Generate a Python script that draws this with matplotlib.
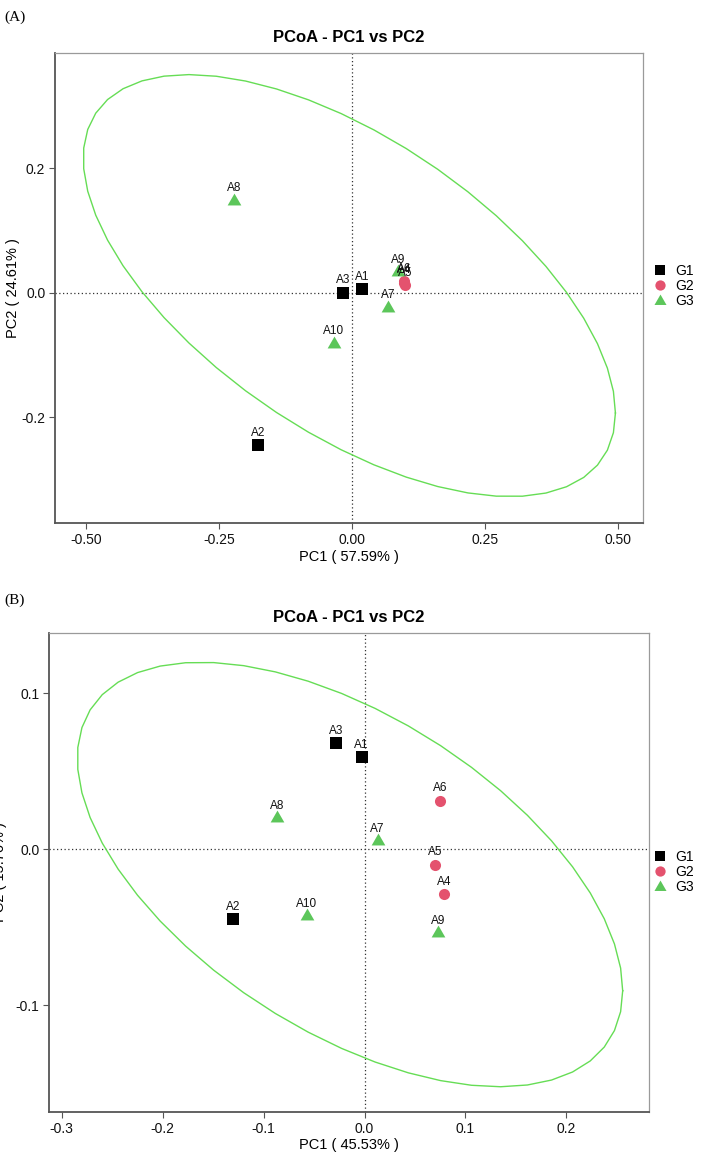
import numpy as np
import matplotlib
matplotlib.use("Agg")
import matplotlib.pyplot as plt
from matplotlib.lines import Line2D

plt.rcParams['font.family'] = ['Liberation Sans', 'DejaVu Sans']

# ---------------- data ----------------
samples = ["A1", "A2", "A3", "A4", "A5", "A6", "A7", "A8", "A9", "A10"]
groups = ["G1", "G1", "G1", "G2", "G2", "G2", "G3", "G3", "G3", "G3"]

# panel A
pc1_a = [0.019, -0.177, -0.017, 0.098, 0.100, 0.097, 0.067, -0.222, 0.086, -0.035]
pc2_a = [0.006, -0.245, 0.000, 0.016, 0.012, 0.018, -0.024, 0.148, 0.033, -0.082]
xlab_a = "PC1 ( 57.59% )"
ylab_a = "PC2 ( 24.61% )"
xticks_a = [-0.50, -0.25, 0.00, 0.25, 0.50]
yticks_a = [-0.2, 0.0, 0.2]

# panel B
pc1_b = [-0.003, -0.130, -0.028, 0.079, 0.070, 0.075, 0.013, -0.087, 0.073, -0.057]
pc2_b = [0.059, -0.045, 0.068, -0.029, -0.010, 0.031, 0.005, 0.020, -0.054, -0.043]
xlab_b = "PC1 ( 45.53% )"
ylab_b = "PC2 ( 15.76% )"
xticks_b = [-0.3, -0.2, -0.1, 0.0, 0.1, 0.2]
yticks_b = [-0.1, 0.0, 0.1]

title = "PCoA - PC1 vs PC2"
group_names = ["G1", "G2", "G3"]
colors = {"G1": "#000000", "G2": "#E4526E", "G3": "#5CC65A"}
ellipse_color = "#66DD55"

# equilateral triangle centred on its centroid (like R pch 17)
TRI = [(-0.866, -0.5), (0.866, -0.5), (0.0, 1.0), (-0.866, -0.5)]
markers = {"G1": "s", "G2": "o", "G3": TRI}
msize = {"G1": 8.2, "G2": 8.0, "G3": 11.4}
leg_msize = {"G1": 7.0, "G2": 7.4, "G3": 10.0}


# ---------------- helpers ----------------
def cov_trob(x, nu=5, maxit=25, tol=0.01):
    x = np.asarray(x, float)
    n, p = x.shape
    wt = np.ones(n)
    loc = (wt[:, None] * x).sum(0) / wt.sum()
    w = np.sqrt(wt)
    for _ in range(maxit):
        w0 = w
        X = x - loc
        A = np.sqrt(w / w.sum())[:, None] * X
        _, d, vt = np.linalg.svd(A, full_matrices=False)
        wX = X @ vt.T @ np.diag(1.0 / d)
        Q = (wX ** 2).sum(1)
        w = (wt * (nu + p)) / (nu + Q)
        loc = (w[:, None] * x).sum(0) / w.sum()
        if np.all(np.abs(w - w0) < tol):
            break
    X = x - loc
    cov = (np.sqrt(w)[:, None] * X).T @ (np.sqrt(w)[:, None] * X) / wt.sum()
    return loc, cov


def stat_ellipse(x, y, level=0.95, segments=51):
    pts = np.column_stack([x, y])
    n = len(pts)
    center, shape = cov_trob(pts)
    d2 = n - 1
    fq = d2 / 2.0 * (((1 - level) ** (-2.0 / d2)) - 1.0)  # qf(level, 2, d2)
    radius = np.sqrt(2 * fq)
    chol = np.linalg.cholesky(shape).T
    ang = np.linspace(0, 2 * np.pi, segments + 1)
    circ = np.column_stack([np.cos(ang), np.sin(ang)])
    ell = center + radius * (circ @ chol)
    return ell[:, 0], ell[:, 1]


W, H = 708, 1152


def panel(fig, rect_px, pc1, pc2, xlab, ylab, xticks, yticks, xlim, ylim, xfmt,
          ylab_x_px, leg_y_px):
    l, t, r, b = rect_px
    ax = fig.add_axes([l / W, 1 - b / H, (r - l) / W, (b - t) / H])
    ax.axhline(0, color="#333333", lw=0.9, ls=(0, (1, 2)), zorder=1)
    ax.axvline(0, color="#333333", lw=0.9, ls=(0, (1, 2)), zorder=1)
    for g in group_names:
        idx = [i for i, gg in enumerate(groups) if gg == g]
        if len(idx) > 3:
            ex, ey = stat_ellipse([pc1[i] for i in idx], [pc2[i] for i in idx])
            ax.plot(ex, ey, color=ellipse_color, lw=1.0, zorder=2)
    for i, s in enumerate(samples):
        g = groups[i]
        ax.plot(pc1[i], pc2[i], marker=markers[g], color=colors[g], ms=msize[g],
                mew=0, ls="none", zorder=3)
        ax.annotate(s, (pc1[i], pc2[i]), xytext=(0, 4.5), textcoords="offset points",
                    ha="center", va="bottom", fontsize=8.5, color="#111111", zorder=4)
    ax.set_xlim(*xlim)
    ax.set_ylim(*ylim)
    ax.set_xticks(xticks)
    ax.set_yticks(yticks)
    ax.set_xticklabels([xfmt.format(v) for v in xticks])
    ax.set_yticklabels(["{:.1f}".format(v) for v in yticks])
    ax.tick_params(axis="both", labelsize=10, color="#555555", length=4, width=0.8,
                   labelcolor="#111111", pad=3)
    ax.set_xlabel(xlab, fontsize=10.5, labelpad=2)
    ax.set_ylabel(ylab, fontsize=10.5)
    ax.yaxis.set_label_coords((ylab_x_px - l) / (r - l), 0.5)
    ax.set_title(title, fontsize=12, fontweight="bold", pad=8)
    for side in ["left", "bottom"]:
        ax.spines[side].set_color("#555555")
        ax.spines[side].set_linewidth(1.3)
    for side in ["top", "right"]:
        ax.spines[side].set_color("#9a9a9a")
        ax.spines[side].set_linewidth(0.9)
    handles = [Line2D([], [], marker=markers[g], color=colors[g], ls="none",
                      ms=leg_msize[g], mew=0) for g in group_names]
    fig.legend(handles, group_names, loc="center left",
               bbox_to_anchor=(654 / W, 1 - leg_y_px / H),
               bbox_transform=fig.transFigure,
               frameon=False, fontsize=10, handlelength=0.9, handletextpad=0.6,
               labelspacing=0.1, borderaxespad=0, borderpad=0)
    return ax


fig = plt.figure(figsize=(W / 100, H / 100), dpi=100)

panel(fig, (55, 53, 643, 523), pc1_a, pc2_a, xlab_a, ylab_a, xticks_a, yticks_a,
      (-0.5587, 0.5464), (-0.370, 0.385), "{:.2f}", 20, 286)

panel(fig, (49, 633, 649, 1112), pc1_b, pc2_b, xlab_b, ylab_b, xticks_b, yticks_b,
      (-0.3126, 0.2818), (-0.1686, 0.1385), "{:.1f}", 7, 872)

fig.text(4 / W, 1 - 17 / H, "(A)", family=["Liberation Serif"], fontsize=11, va="center")
fig.text(4 / W, 1 - 600 / H, "(B)", family=["Liberation Serif"], fontsize=11, va="center")

fig.savefig("out.png", dpi=100)
